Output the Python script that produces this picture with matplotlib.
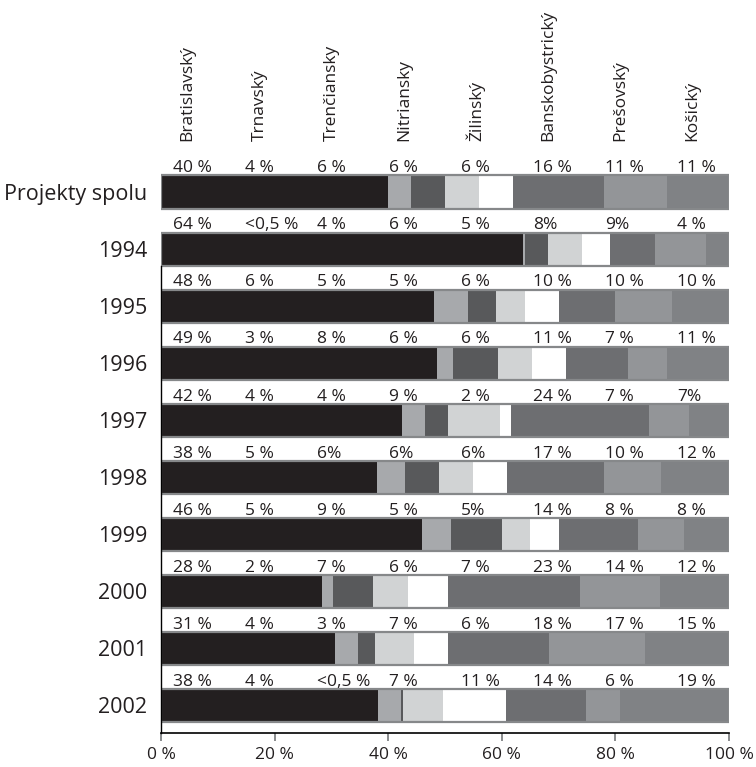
import numpy as np
import matplotlib
matplotlib.use("Agg")
import matplotlib.pyplot as plt

plt.rcParams['font.family'] = ['Open Sans', 'DejaVu Sans']

regions = ["Bratislavský", "Trnavský", "Trenčiansky", "Nitriansky",
           "Žilinský", "Banskobystrický", "Prešovský", "Košický"]
rows = ["Projekty spolu", "1994", "1995", "1996", "1997",
        "1998", "1999", "2000", "2001", "2002"]

# share of projects per region (%), "<0,5" read as 0.4
shares = np.array([
    [40, 4, 6, 6, 6, 16, 11, 11],
    [64, 0.4, 4, 6, 5, 8, 9, 4],
    [48, 6, 5, 5, 6, 10, 10, 10],
    [49, 3, 8, 6, 6, 11, 7, 11],
    [42, 4, 4, 9, 2, 24, 7, 7],
    [38, 5, 6, 6, 6, 17, 10, 12],
    [46, 5, 9, 5, 5, 14, 8, 8],
    [28, 2, 7, 6, 7, 23, 14, 12],
    [31, 4, 3, 7, 6, 18, 17, 15],
    [38, 4, 0.4, 7, 11, 14, 6, 19],
])

# labels exactly as printed above each bar
labels = [
    ["40 %", "4 %", "6 %", "6 %", "6 %", "16 %", "11 %", "11 %"],
    ["64 %", "<0,5 %", "4 %", "6 %", "5 %", "8%", "9%", "4 %"],
    ["48 %", "6 %", "5 %", "5 %", "6 %", "10 %", "10 %", "10 %"],
    ["49 %", "3 %", "8 %", "6 %", "6 %", "11 %", "7 %", "11 %"],
    ["42 %", "4 %", "4 %", "9 %", "2 %", "24 %", "7 %", "7%"],
    ["38 %", "5 %", "6%", "6%", "6%", "17 %", "10 %", "12 %"],
    ["46 %", "5 %", "9 %", "5 %", "5%", "14 %", "8 %", "8 %"],
    ["28 %", "2 %", "7 %", "6 %", "7 %", "23 %", "14 %", "12 %"],
    ["31 %", "4 %", "3 %", "7 %", "6 %", "18 %", "17 %", "15 %"],
    ["38 %", "4 %", "<0,5 %", "7 %", "11 %", "14 %", "6 %", "19 %"],
]

colors = ["#231f20", "#a7a9ac", "#58595b", "#d1d3d4",
          "#ffffff", "#6d6e71", "#939598", "#808285"]
edge = "#86888a"

fig = plt.figure(figsize=(7.56, 7.67), dpi=100)
ax = fig.add_axes([161 / 756, 1 - 733 / 767, 568 / 756, (733 - 157.8) / 767])

y = np.arange(len(rows))
bar_h = 0.58
pct = shares / shares.sum(axis=1, keepdims=True) * 100
left = np.zeros(len(rows))
for j in range(len(regions)):
    ax.barh(y, pct[:, j], left=left, height=bar_h, color=colors[j],
            edgecolor="none", linewidth=0)
    left += pct[:, j]
# outline round each row
ax.barh(y, 100, left=0, height=bar_h, fill=False, edgecolor=edge, linewidth=1.6)

# column positions for labels
col_x = 2.1 + 12.68 * np.arange(len(regions))
for i in range(len(rows)):
    for j in range(len(regions)):
        ax.text(col_x[j], y[i] - bar_h / 2 - 0.055, labels[i][j], ha="left",
                va="baseline", fontsize=12.5, color="#231f20", clip_on=False)

for j, name in enumerate(regions):
    ax.text(col_x[j] + 2.6, -0.894, name, rotation=90, ha="center", va="bottom",
            fontsize=12.5, color="#231f20", clip_on=False)

ax.set_xlim(0, 100)
ax.set_ylim(9.483, -0.6)
ax.set_yticks(y)
ax.set_yticklabels(rows, fontsize=15.5, color="#231f20")
ax.tick_params(axis="y", length=0, pad=10)
ax.set_xticks([0, 20, 40, 60, 80, 100])
ax.set_xticklabels(["0 %", "20 %", "40 %", "60 %", "80 %", "100 %"], fontsize=12.5,
                   color="#231f20")
ax.tick_params(axis="x", length=6, width=1.3, color="#808285", pad=4)

ax.spines["top"].set_visible(False)
ax.spines["right"].set_visible(False)
ax.spines["left"].set_bounds(1.3, 9.483)
ax.spines["left"].set_linewidth(1.0)
ax.spines["bottom"].set_linewidth(1.2)

fig.savefig("out.png", dpi=100)
